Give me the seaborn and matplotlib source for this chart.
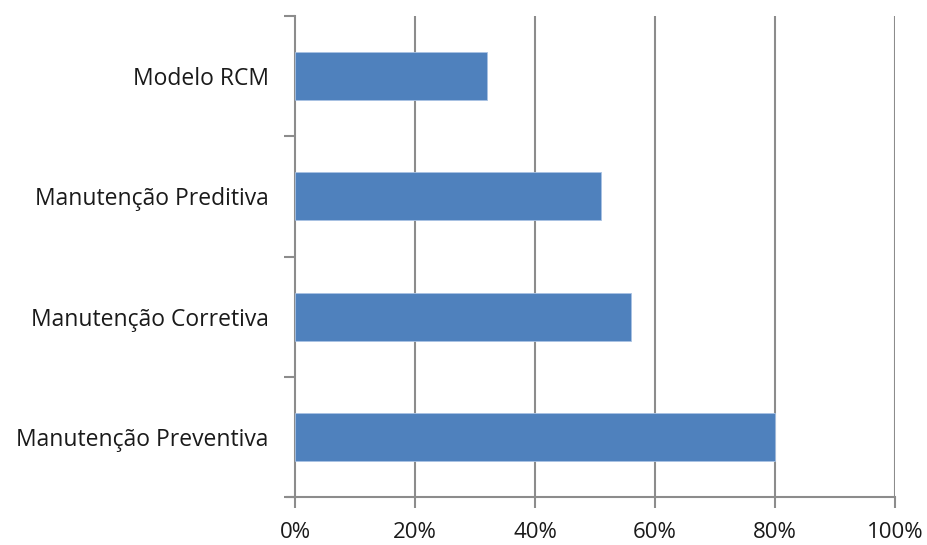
import matplotlib
matplotlib.use("Agg")
import matplotlib.pyplot as plt
import seaborn as sns
import pandas as pd
import numpy as np
from matplotlib.ticker import FixedLocator, PercentFormatter

categories = ["Modelo RCM", "Manutenção Preditiva", "Manutenção Corretiva", "Manutenção Preventiva"]
values = [32, 51, 56, 80]
x_ticks = [0, 20, 40, 60, 80, 100]

sns.set_theme(style="white")
plt.rcParams['font.family'] = ['Open Sans', 'DejaVu Sans']

df = pd.DataFrame({"cat": categories, "val": values})

fig = plt.figure(figsize=(9.28, 5.45), dpi=100)
ax = fig.add_axes([295/928, 1-497/545, 600/928, (497-16)/545])

sns.barplot(data=df, y="cat", x="val", orient="h", color="#4F81BD",
            width=0.4, saturation=1, edgecolor="#A9C2E3", linewidth=0.6, ax=ax, zorder=3)

ax.set_xlim(0, 100)
ax.set_ylim(len(categories)-0.5, -0.5)
ax.set_xticks(x_ticks)
ax.xaxis.set_major_formatter(PercentFormatter(decimals=0))
ax.set_xlabel("")
ax.set_ylabel("")

grid_color = "#8C8C8C"
for x in x_ticks[1:]:
    ax.axvline(x, color=grid_color, lw=1.5, zorder=1)

for s in ["top", "right"]:
    ax.spines[s].set_visible(False)
for s in ["left", "bottom"]:
    ax.spines[s].set_color(grid_color)
    ax.spines[s].set_linewidth(1.5)
# small outward extension of the category axis line at the lower left corner
ax.plot([-0.015, 0], [0, 0], transform=ax.transAxes, color=grid_color, lw=1.5,
        clip_on=False, solid_capstyle="butt")

ax.yaxis.set_minor_locator(FixedLocator(np.arange(-0.5, len(categories), 1.0)))
ax.tick_params(axis="y", which="major", length=0, pad=19, labelsize=16.5, labelcolor="#1a1a1a")
ax.tick_params(axis="y", which="minor", length=8, width=1.5, color=grid_color, left=True)
ax.tick_params(axis="x", which="major", length=8, width=1.5, color=grid_color, bottom=True,
               pad=10, labelsize=16, labelcolor="#1a1a1a")

fig.savefig("out.png", dpi=100, facecolor="white")
